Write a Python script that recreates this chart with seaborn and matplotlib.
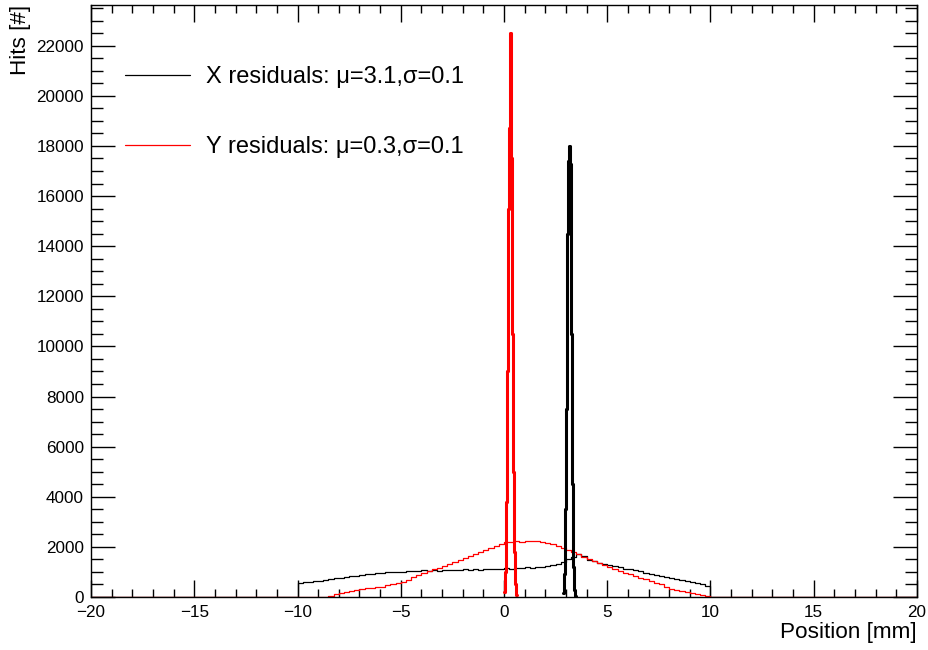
import numpy as np
import seaborn as sns
import matplotlib.pyplot as plt
from matplotlib.ticker import MultipleLocator

# broad residual distributions, 0.25 mm bins from -10 to 10 mm
bg_start, bg_width = -10.0, 0.25
x_background = [
    560, 590, 600, 640, 650, 690, 720, 740,
    770, 800, 830, 850, 880, 900, 920, 950,
    960, 980, 990, 1010, 1000, 1030, 1020, 1040,
    1060, 1040, 1070, 1050, 1080, 1060, 1090, 1070,
    1100, 1080, 1110, 1090, 1120, 1110, 1130, 1100,
    1140, 1120, 1160, 1150, 1180, 1170, 1200, 1210,
    1250, 1280, 1330, 1400, 1500, 1600, 1700, 1650,
    1480, 1420, 1360, 1320, 1270, 1220, 1180, 1130,
    1100, 1070, 1020, 970, 920, 880, 820, 780,
    740, 700, 660, 630, 590, 540, 500, 450,
]
y_background = [
    0, 0, 0, 0, 0, 20, 60, 110,
    160, 200, 240, 280, 320, 350, 380, 410,
    420, 460, 510, 560, 610, 690, 780, 870,
    950, 1020, 1100, 1170, 1240, 1330, 1410, 1490,
    1560, 1640, 1710, 1790, 1860, 1950, 2030, 2120,
    2180, 2200, 2220, 2210, 2240, 2230, 2220, 2200,
    2150, 2100, 2040, 1960, 1880, 1790, 1700, 1610,
    1530, 1440, 1360, 1280, 1200, 1120, 1040, 960,
    900, 830, 760, 700, 640, 570, 500, 420,
    340, 300, 260, 220, 170, 120, 70, 30,
]

# narrow residual peaks, 0.05 mm bins
pk_width = 0.05
x_peak_start = 2.85
x_peak = [150, 900, 3500, 7500, 14500, 17400, 18000, 17300,
          10500, 4500, 1200, 300, 50]
y_peak_start = 0.0
y_peak = [200, 1000, 3800, 9000, 15500, 18700, 22500, 17500,
          10500, 5000, 1800, 500, 100]

x_label = 'X residuals: \u03bc=3.1,\u03c3=0.1'
y_label = 'Y residuals: \u03bc=0.3,\u03c3=0.1'

sns.set_style('ticks')
plt.rcParams['font.family'] = ['Liberation Sans', 'DejaVu Sans']
plt.rcParams.update({'text.color': 'black', 'axes.labelcolor': 'black',
                     'axes.edgecolor': 'black', 'xtick.color': 'black',
                     'ytick.color': 'black'})


def hist_step(ax, values, start, width, lo=None, hi=None, **kws):
    # pad the read bins with empty bins out to lo/hi
    lo = start if lo is None else lo
    hi = start + width * len(values) if hi is None else hi
    n_lo = int(round((start - lo) / width))
    n_hi = int(round((hi - start) / width)) - len(values)
    counts = np.concatenate([np.zeros(n_lo), values, np.zeros(n_hi)])
    centers = lo + width * (np.arange(len(counts)) + 0.5)
    sns.histplot(x=centers, weights=counts, binwidth=width, binrange=(lo, hi),
                 element='step', fill=False, ax=ax, **kws)


fig = plt.figure(figsize=(9.29, 6.5), dpi=100)
ax = fig.add_axes([0.098, 0.0815, 0.889, 0.9108])

hist_step(ax, x_background, bg_start, bg_width, -20, 20,
          color='black', linewidth=0.9, label=x_label)
hist_step(ax, y_background, bg_start, bg_width, -20, 20,
          color='red', linewidth=0.9, label=y_label)
hist_step(ax, y_peak, y_peak_start, pk_width, color='red', linewidth=2.2)
hist_step(ax, x_peak, x_peak_start, pk_width, color='black', linewidth=2.2)

ax.set_xlim(-20, 20)
ax.set_ylim(0, 23625)
ax.xaxis.set_major_locator(MultipleLocator(5))
ax.xaxis.set_minor_locator(MultipleLocator(1))
ax.yaxis.set_major_locator(MultipleLocator(2000))
ax.yaxis.set_minor_locator(MultipleLocator(500))
ax.tick_params(axis='x', which='major', direction='in', length=12, width=1,
               top=True, labelsize=12.3, pad=5.5)
ax.tick_params(axis='x', which='minor', direction='in', length=6, width=1, top=True)
ax.tick_params(axis='y', which='major', direction='in', length=17, width=1,
               right=True, labelsize=12.3, pad=5)
ax.tick_params(axis='y', which='minor', direction='in', length=8.5, width=1, right=True)
for s in ax.spines.values():
    s.set_linewidth(1.0)

ax.set_xlabel('Position [mm]', fontsize=16.2, loc='right', labelpad=1.5)
ax.set_ylabel('Hits [#]', fontsize=16.2, loc='top', labelpad=4)

ax.legend(loc='upper left', bbox_to_anchor=(0.041, 0.897), fontsize=17,
          frameon=False, borderpad=0, borderaxespad=0, handlelength=2.75,
          handletextpad=0.7, labelspacing=2.05)

fig.savefig('out.png', dpi=100)
